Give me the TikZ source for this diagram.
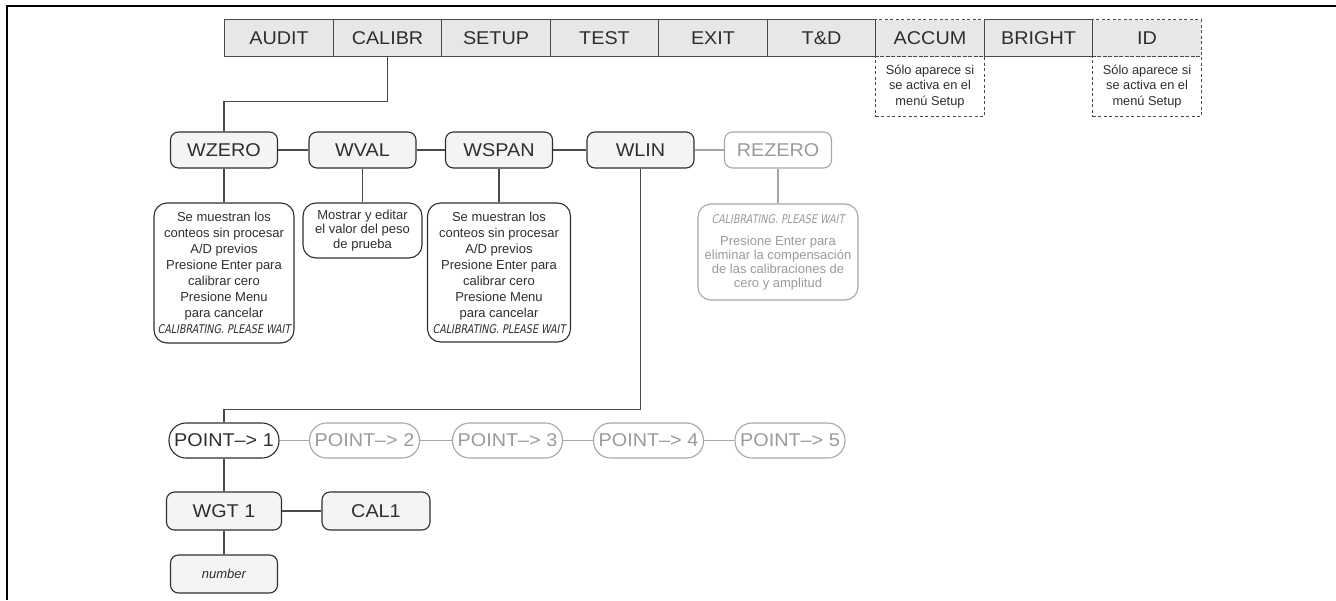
\documentclass[tikz,border=0pt]{standalone}
\usepackage{fontspec}
\setmainfont{Liberation Sans}
\newfontfamily\lcd[FakeSlant=0.18,FakeStretch=0.8]{DejaVu Sans}
\newfontfamily\menufont[FakeStretch=1.07]{Liberation Sans}
\definecolor{txt}{HTML}{2E2E2E}
\definecolor{cellfill}{HTML}{E6E7E8}
\definecolor{nodefill}{HTML}{F4F4F4}
\definecolor{linec}{HTML}{4A4A4A}
\definecolor{faded}{HTML}{A6A6A6}
\definecolor{fadedtxt}{HTML}{9A9A9A}
\begin{document}
\begin{tikzpicture}[x=1pt,y=-1pt,
  cell/.style={draw=linec,line width=1pt,fill=cellfill,minimum width=108.5pt,minimum height=37pt,inner sep=0pt,text=txt,font=\menufont\fontsize{18.5}{20}\selectfont},
  dcell/.style={cell,dashed,dash pattern=on 3pt off 2.5pt},
  note/.style={draw=linec,line width=1pt,dash pattern=on 3pt off 2.5pt,minimum width=108.5pt,minimum height=60pt,inner sep=0pt,align=center,text=txt,font=\fontsize{12.8}{15.5}\selectfont},
  menu/.style={draw=txt,line width=1.1pt,fill=nodefill,rounded corners=8pt,minimum width=107pt,minimum height=36pt,inner sep=0pt,text=txt,font=\menufont\fontsize{18.5}{20}\selectfont},
  fmenu/.style={menu,draw=faded,fill=white,text=fadedtxt},
  tbox/.style={draw=txt,line width=1.1pt,rounded corners=13pt,inner sep=0pt,align=center,text=txt,font=\fontsize{13}{16}\selectfont},
  ftbox/.style={tbox,draw=faded,text=fadedtxt,font=\fontsize{13}{13.8}\selectfont},
  pt/.style={draw=txt,line width=1.1pt,rounded corners=17pt,minimum width=110pt,minimum height=35pt,inner sep=0pt,text=txt,font=\menufont\fontsize{18.5}{20}\selectfont},
  fpt/.style={pt,draw=faded,text=fadedtxt},
  conn/.style={draw=linec,line width=1.2pt},
  fconn/.style={draw=faded,line width=1.2pt}]
\useasboundingbox (0,0) rectangle (1336,600);
\draw[line width=2pt] (7,600) -- (7,6) -- (1336,6);

% top menu
\node[cell] (audit) at (279,38) {AUDIT};
\node[cell] (calibr) at (387.5,38) {CALIBR};
\node[cell] (setup) at (496,38) {SETUP};
\node[cell] (test) at (604.5,38) {TEST};
\node[cell] (exit) at (713,38) {EXIT};
\node[cell] (td) at (821.5,38) {T\&D};
\node[dcell] (accum) at (930,38) {ACCUM};
\node[cell] (bright) at (1038.5,38) {BRIGHT};
\node[dcell] (id) at (1147,38) {ID};
\node[note] (accnote) at (930,86.5) {Sólo aparece si\\se activa en el\\menú Setup};
\node[note] (idnote) at (1147,86.5) {Sólo aparece si\\se activa en el\\menú Setup};

% second row
\node[menu] (wzero) at (224,150) {WZERO};
\node[menu] (wval) at (362.5,150) {WVAL};
\node[menu] (wspan) at (499,150) {WSPAN};
\node[menu] (wlin) at (640.5,150) {WLIN};
\node[fmenu] (rezero) at (778,150) {REZERO};

\draw[conn] (calibr.south) -- ++(0,44.5) -| (wzero.north);
\draw[conn] (wzero) -- (wval);
\draw[conn] (wval) -- (wspan);
\draw[conn] (wspan) -- (wlin);
\draw[fconn] (wlin) -- (rezero);

% description boxes
\node[tbox,minimum width=140pt,minimum height=140pt] (zbox) at (224,273)
 {Se muestran los\\conteos sin procesar\\A/D previos\\Presione Enter para\\calibrar cero\\Presione Menu\\para cancelar\\{\lcd\fontsize{12}{16}\selectfont CALIBRATING. PLEASE WAIT}};
\node[tbox,minimum width=119pt,minimum height=55pt,font=\fontsize{13}{14.5}\selectfont] (vbox) at (362.5,230.5)
 {Mostrar y editar\\el valor del peso\\de prueba};
\node[tbox,minimum width=143pt,minimum height=139pt] (sbox) at (499,272.5)
 {Se muestran los\\conteos sin procesar\\A/D previos\\Presione Enter para\\calibrar cero\\Presione Menu\\para cancelar\\{\lcd\fontsize{12}{16}\selectfont CALIBRATING. PLEASE WAIT}};
\node[ftbox,minimum width=160pt,minimum height=96pt] (rbox) at (778,252)
 {{\lcd\fontsize{12}{12}\selectfont CALIBRATING. PLEASE WAIT}\\[9pt]Presione Enter para\\eliminar la compensación\\de las calibraciones de\\cero y amplitud};

\draw[conn] (wzero.south) -- (zbox.north);
\draw[conn] (wval.south) -- (vbox.north);
\draw[conn] (wspan.south) -- (sbox.north);
\draw[fconn] (rezero.south) -- (rbox.north);

% points
\node[pt] (p1) at (224,440.5) {POINT–> 1};
\node[fpt] (p2) at (364.5,440.5) {POINT–> 2};
\node[fpt] (p3) at (507.5,440.5) {POINT–> 3};
\node[fpt] (p4) at (648.5,440.5) {POINT–> 4};
\node[fpt] (p5) at (790,440.5) {POINT–> 5};

\draw[conn] (wlin.south) -- ++(0,241) -| (p1.north);
\draw[fconn] (p1) -- (p2);
\draw[fconn] (p2) -- (p3);
\draw[fconn] (p3) -- (p4);
\draw[fconn] (p4) -- (p5);

% weights
\node[menu,minimum width=115pt,minimum height=38pt] (wgt) at (224,511) {WGT 1};
\node[menu,minimum width=108pt,minimum height=38pt] (cal) at (376,511) {CAL1};
\node[menu,minimum width=107pt,minimum height=38pt,font=\fontsize{13}{15}\selectfont\itshape] (num) at (224,574) {number};

\draw[conn] (p1.south) -- (wgt.north);
\draw[conn] (wgt) -- (cal);
\draw[conn] (wgt.south) -- (num.north);
\end{tikzpicture}
\end{document}
